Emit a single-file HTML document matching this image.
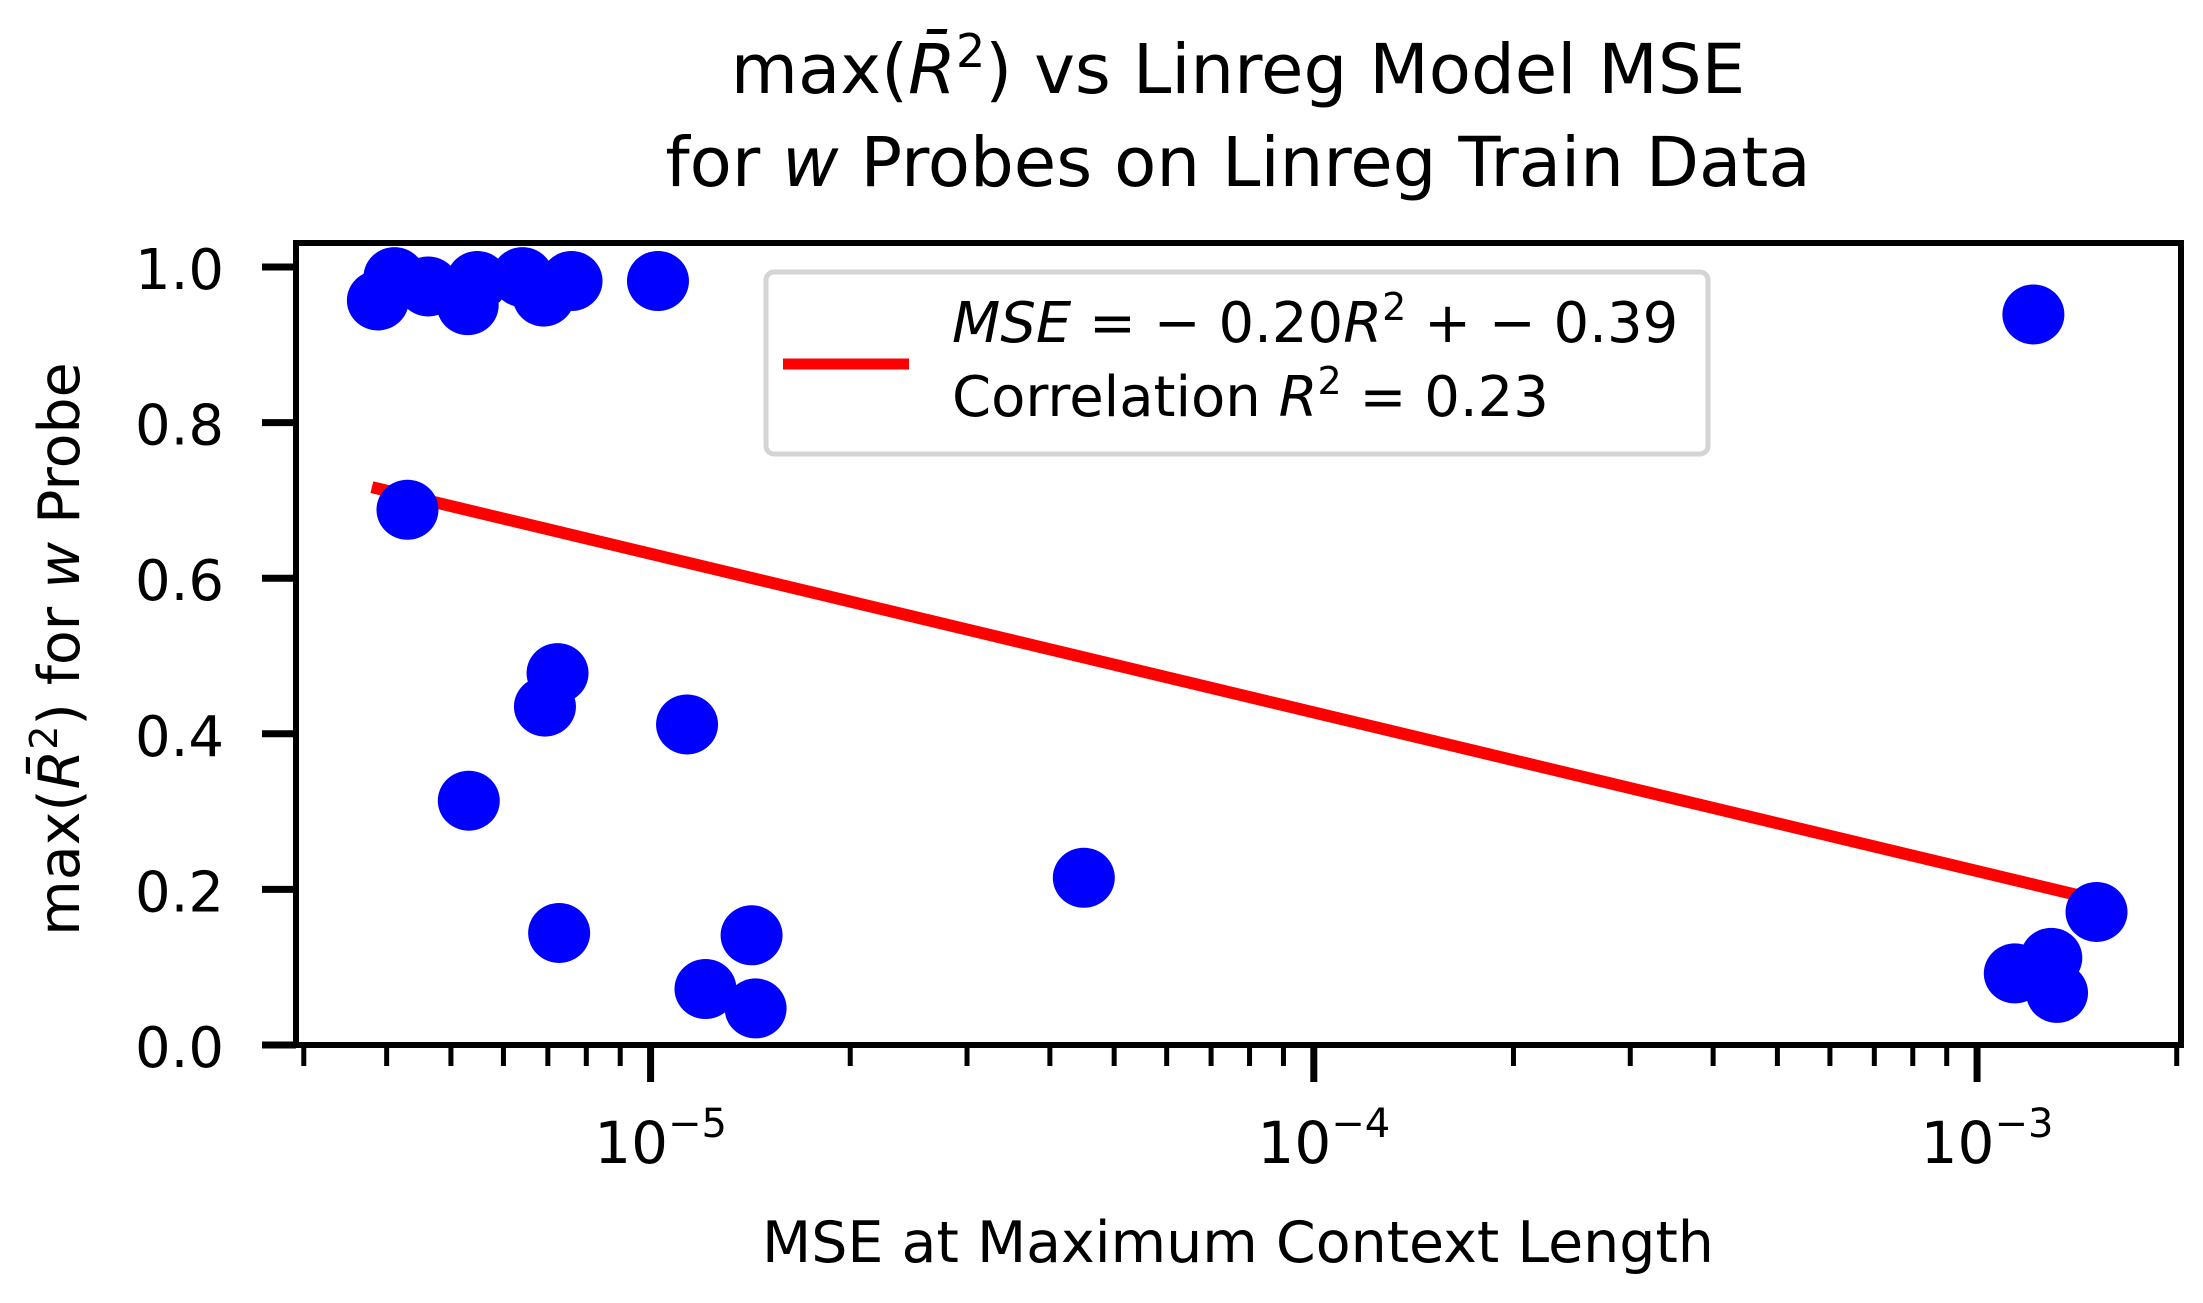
<!DOCTYPE html>
<html><head><meta charset="utf-8"><style>
html,body{margin:0;padding:0;background:#fff;}
svg{display:block;font-family:"DejaVu Sans","Liberation Sans",sans-serif;}
</style></head><body>
<svg id="chart" width="2203" height="1303" viewBox="0 0 2203 1303">
<g font-size="69" text-anchor="middle" fill="#000">
<text x="1238" y="93">max(<tspan font-style="italic">R̄</tspan><tspan font-size="46" dy="-26">2</tspan><tspan dy="26">) vs Linreg Model MSE</tspan></text>
<text x="1238" y="186">for <tspan font-style="italic">w</tspan> Probes on Linreg Train Data</text>
</g>
<g id="plot"></g>
<text x="1238" y="1262" font-size="57" text-anchor="middle">MSE at Maximum Context Length</text>
<text transform="translate(79,649) rotate(-90)" font-size="57" text-anchor="middle">max(<tspan font-style="italic">R̄</tspan><tspan font-size="38" dy="-22">2</tspan><tspan dy="22">) for </tspan><tspan font-style="italic">w</tspan> Probe</text>
<g>
<rect x="766" y="272" width="942" height="182" rx="8" fill="#fff" stroke="#d4d4d4" stroke-width="5"/>
<line x1="783" y1="364" x2="909" y2="364" stroke="#ff0000" stroke-width="11"/>
<text x="952" y="342" font-size="56"><tspan font-style="italic">MSE</tspan> = − 0.20<tspan font-style="italic">R</tspan><tspan font-size="38" dy="-22">2</tspan><tspan dy="22"> + − 0.39</tspan></text>
<text x="952" y="416" font-size="56">Correlation <tspan font-style="italic">R</tspan><tspan font-size="38" dy="-22">2</tspan><tspan dy="22"> = 0.23</tspan></text>
</g>
</svg>
<script>
const pointX=[3.88e-6,4.11e-6,4.62e-6,5.30e-6,5.48e-6,6.41e-6,6.90e-6,7.60e-6,1.026e-5,4.30e-6,7.24e-6,6.93e-6,1.135e-5,5.32e-6,7.28e-6,1.21e-5,1.42e-5,1.44e-5,4.50e-5,1.216e-3,1.514e-3,1.14e-3,1.294e-3,1.32e-3];
const pointY=[0.957,0.987,0.975,0.951,0.982,0.987,0.962,0.982,0.982,0.688,0.478,0.435,0.412,0.314,0.144,0.072,0.141,0.047,0.215,0.939,0.171,0.092,0.112,0.067];
const fitX=[3.8e-6,1.6e-3];
const fitY=[0.717,0.182];
const yTicks=[0,0.2,0.4,0.6,0.8,1.0];
const yTickLabels=["0.0","0.2","0.4","0.6","0.8","1.0"];
const xMajor=[-5,-4,-3];
const L=296,R=2181,T=243,B=1045;
const xmin=Math.log10(2.92e-6),xmax=Math.log10(2.03e-3);
function sx(v){return L+(Math.log10(v)-xmin)/(xmax-xmin)*(R-L);}
function sy(v){return 1045-v*778;}
const NS='http://www.w3.org/2000/svg';
const g=document.getElementById('plot');
function mk(t,a,p){const e=document.createElementNS(NS,t);for(const k in a)e.setAttribute(k,a[k]);(p||g).appendChild(e);return e;}
const fl=mk('line',{x1:sx(fitX[0]),y1:sy(fitY[0]),x2:sx(fitX[1]),y2:sy(fitY[1]),stroke:'#ff0000','stroke-width':12});


for(let i=0;i<pointX.length;i++){
 const c=mk('ellipse',{cx:sx(pointX[i]),cy:sy(pointY[i]),rx:31,ry:30,fill:'#0000ff'});
 
 
}
const fr=mk('rect',{x:L,y:T,width:R-L,height:B-T,fill:'none',stroke:'#000','stroke-width':6});


for(let i=0;i<yTicks.length;i++){
 const y=sy(yTicks[i]);
 const t=mk('line',{x1:L-34,y1:y,x2:L,y2:y,stroke:'#000','stroke-width':7});
 
 
 const tx=mk('text',{x:L-72,y:y+22,'font-size':56,'text-anchor':'end'});
 tx.textContent=yTickLabels[i];
 
 
}
for(let e=-6;e<=-3;e++){
 for(let m=1;m<10;m++){
  const v=m*Math.pow(10,e);
  const lv=Math.log10(v);
  if(lv<xmin-1e-9||lv>xmax+1e-9)continue;
  const x=sx(v);
  const major=m===1;
  const t=mk('line',{x1:x,y1:B,x2:x,y2:B+(major?37:21),stroke:'#000','stroke-width':major?7:5});
  
  
  if(major&&xMajor.includes(e)){
   const tx=mk('text',{x:x+10,y:1163,'font-size':58,'text-anchor':'middle'});
   tx.innerHTML='10<tspan font-size="40" dy="-26">−'+(-e)+'</tspan>';
   
   
  }
 }
}
</script>
</body></html>
